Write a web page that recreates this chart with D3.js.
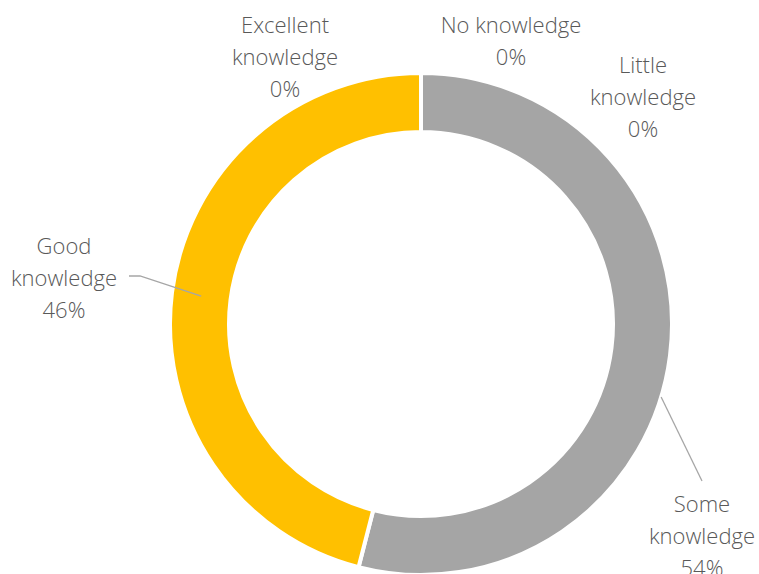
<!DOCTYPE html>
<html><head><meta charset="utf-8">
<script src="https://cdn.jsdelivr.net/npm/d3@7"></script>
<style>
body{margin:0;background:#fff;overflow:hidden}
text{font-family:"Open Sans",sans-serif;font-weight:300;fill:#595959}
</style></head>
<body><svg id="c" width="759" height="574"></svg>
<script>
const categories = ["No knowledge","Little knowledge","Some knowledge","Good knowledge","Excellent knowledge"];
const values = [0, 0, 54, 46, 0];
const colors = ["#4472C4","#ED7D31","#A5A5A5","#FFC000","#5B9BD5"];

// label layout (text line centres), separate from data
const labelLines = {
  "No knowledge": {x:511, y:25, lines:["No knowledge"]},
  "Little knowledge": {x:643, y:65, lines:["Little","knowledge"]},
  "Some knowledge": {x:702, y:504, lines:["Some","knowledge"]},
  "Good knowledge": {x:64, y:246, lines:["Good","knowledge"]},
  "Excellent knowledge": {x:285, y:25, lines:["Excellent","knowledge"]}
};

const svg = d3.select("#c");
const cx = 421, cy = 324, outerR = 251, innerR = 192;
const g = svg.append("g").attr("transform",`translate(${cx},${cy})`);
const pie = d3.pie().sort(null).value(d=>d.v);
const arcs = pie(categories.map((c,i)=>({c, v:values[i], col:colors[i]})));
const arc = d3.arc().innerRadius(innerR).outerRadius(outerR);
g.selectAll("path").data(arcs.filter(a=>a.data.v>0)).join("path")
  .attr("d",arc).attr("fill",d=>d.data.col).attr("stroke","#fff").attr("stroke-width",4);

// leader lines
const midArc = d3.arc().innerRadius((innerR+outerR)/2).outerRadius((innerR+outerR)/2);
const good = arcs[3];
const gc = midArc.centroid(good);
svg.append("polyline").attr("fill","none").attr("stroke","#A6A6A6").attr("stroke-width",1.3)
  .attr("points",`129,276 140,276 ${cx+gc[0]},${cy+gc[1]}`);
const some = arcs[2];
const sa = some.startAngle + (some.endAngle-some.startAngle)*0.55;
svg.append("line").attr("stroke","#A6A6A6").attr("stroke-width",1.3)
  .attr("x1",cx+outerR*Math.sin(sa)).attr("y1",cy-outerR*Math.cos(sa))
  .attr("x2",702).attr("y2",481);

const lh = 32;
arcs.forEach(a=>{
  const L = labelLines[a.data.c];
  const lines = L.lines.concat([Math.round(a.data.v)+"%"]);
  const t = svg.append("text").attr("text-anchor","middle").style("font-size","22px");
  lines.forEach((s,i)=>t.append("tspan").attr("x",L.x).attr("y",L.y+i*lh).attr("dy","0.35em").text(s));
});
</script></body></html>
